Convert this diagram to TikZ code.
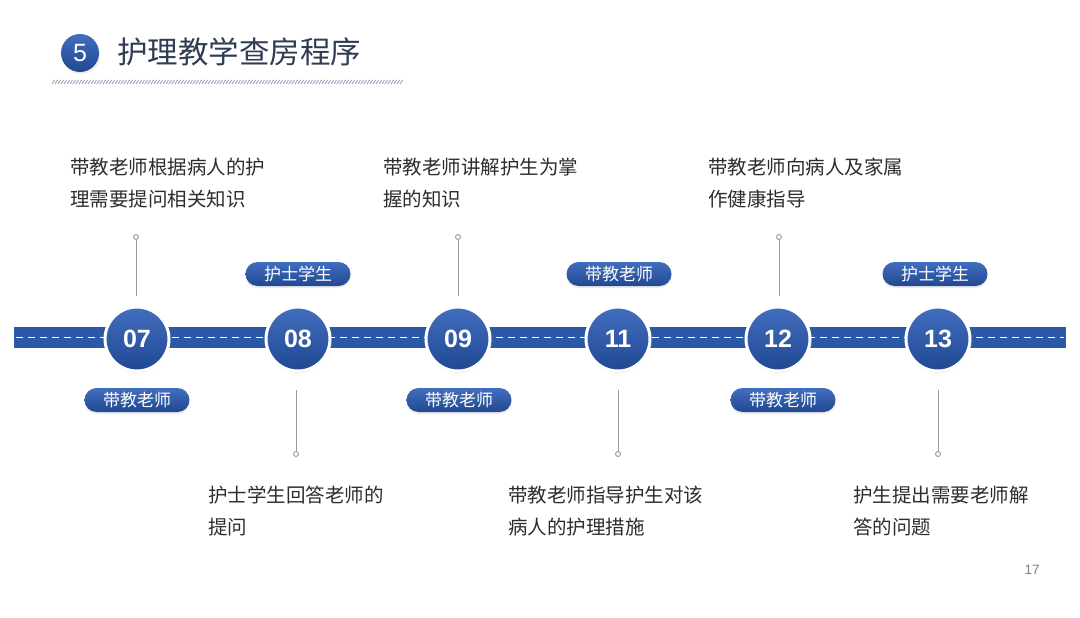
\documentclass[tikz,border=0pt]{standalone}
\usepackage{fontspec}
\newfontfamily\cjk{Noto Sans CJK SC}
\newfontfamily\arial{Liberation Sans}
\usetikzlibrary{shadows}
\definecolor{bluemain}{RGB}{44,88,168}
\definecolor{bluelight}{RGB}{66,110,190}
\definecolor{bluedark}{RGB}{32,72,146}
\definecolor{txt}{RGB}{45,45,45}
\definecolor{titlec}{RGB}{48,60,84}
\definecolor{linegray}{RGB}{150,156,166}
\definecolor{hatch}{RGB}{160,170,188}
\tikzset{
  stepcirc/.style={circle, minimum size=64pt, inner sep=0, draw=white, line width=3pt,
     top color=bluelight, bottom color=bluedark, text=white,
     font=\arial\bfseries\fontsize{25}{25}\selectfont,
     drop shadow={opacity=0.18, shadow xshift=0pt, shadow yshift=-2pt}},
  pill/.style={rounded corners=12pt, minimum width=105pt, minimum height=24pt, inner sep=0,
     top color=bluelight, bottom color=bluedark, text=white,
     font=\cjk\fontsize{17}{17}\selectfont,
     drop shadow={opacity=0.15, shadow xshift=0pt, shadow yshift=-2pt}},
  desc/.style={anchor=north west, inner sep=0, align=left, text=txt,
     font=\cjk\fontsize{19.5}{32}\selectfont},
  dot/.style={circle, draw=linegray, fill=white, line width=0.9pt, minimum size=5pt, inner sep=0},
  stem/.style={draw=linegray, line width=1pt},
}
\begin{document}
\begin{tikzpicture}[x=1pt,y=-1pt]
\useasboundingbox (0,0) rectangle (1080,618);
\fill[white] (0,0) rectangle (1080,618);
% title
\node[circle, minimum size=38pt, inner sep=0, top color=bluelight, bottom color=bluedark,
      text=white, font=\arial\fontsize{25}{25}\selectfont,
      drop shadow={opacity=0.15, shadow xshift=1pt, shadow yshift=-2pt}] (tnum) at (80,53) {5};
\node[anchor=west, inner sep=0, text=titlec, font=\cjk\fontsize{30.5}{30.5}\selectfont] (title) at (117,52) {护理教学查房程序};
\foreach \i in {52,55,...,400} \draw[hatch, line width=1pt] (\i,84) -- (\i+2.5,80);
% bar
\fill[bluemain] (14,327) rectangle (1066,348);
\draw[white, line width=1.3pt, dash pattern=on 7pt off 5pt] (16,337.5) -- (1064,337.5);
% circles
\foreach \n/\x in {07/137,08/298,09/458,11/618,12/778,13/938}
  \node[stepcirc] (c\n) at (\x,339) {\n};
% pills
\node[pill] (p07) at (137,400) {带教老师};
\node[pill] (p08) at (298,274) {护士学生};
\node[pill] (p09) at (459,400) {带教老师};
\node[pill] (p11) at (619,274) {带教老师};
\node[pill] (p12) at (783,400) {带教老师};
\node[pill] (p13) at (935,274) {护士学生};
% stems up
\foreach \n/\x in {07/136,09/458,12/779} {
  \coordinate (s\n) at (\x,296);
  \node[dot] (d\n) at (\x,237) {};
  \draw[stem] (d\n) -- (s\n);
}
% stems down
\foreach \n/\x in {08/296,11/618,13/938} {
  \coordinate (s\n) at (\x,390);
  \node[dot] (d\n) at (\x,454) {};
  \draw[stem] (s\n) -- (d\n);
}
% descriptions
\node[desc] (t07) at (70,158) {带教老师根据病人的护\\理需要提问相关知识};
\node[desc] (t09) at (383,158) {带教老师讲解护生为掌\\握的知识};
\node[desc] (t12) at (708,158) {带教老师向病人及家属\\作健康指导};
\node[desc] (t08) at (208,486) {护士学生回答老师的\\提问};
\node[desc] (t11) at (508,486) {带教老师指导护生对该\\病人的护理措施};
\node[desc] (t13) at (853,486) {护生提出需要老师解\\答的问题};
% page number
\node[text=gray, font=\arial\fontsize{13.5}{13.5}\selectfont] (pg) at (1032,570) {17};
\end{tikzpicture}
\end{document}
